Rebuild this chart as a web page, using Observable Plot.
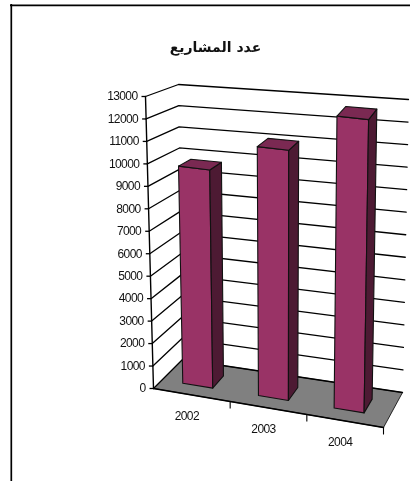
<!DOCTYPE html>
<html><head><meta charset="utf-8">
<style>html,body{margin:0;padding:0;background:#fff}svg{display:block;filter:blur(0.35px)}
svg text{letter-spacing:-0.6px}
svg g[font-weight="bold"] text{letter-spacing:0}</style>
<script src="https://cdn.jsdelivr.net/npm/d3@7"></script>
<script src="https://cdn.jsdelivr.net/npm/@observablehq/plot@0.6"></script>
</head><body><div id="chart"></div>
<script>
const chartTitle = "عدد المشاريع";
const categories = ["2002", "2003", "2004"];
const values = [9800, 11100, 12850];
const tickValues = d3.range(0, 13001, 1000);

// The 3-D box as drawn on the page: [along category axis][depth][height]
const box = {
  fb: [153, 388], fbr: [383, 427], bb: [182, 359], bbr: [402, 392],
  ft: [145, 96],  ftr: [389, 127], bt: [178, 84],  btr: [408, 99]
};
const maxValue = 13000;
const lerp = (a, b, t) => [a[0] + (b[0] - a[0]) * t, a[1] + (b[1] - a[1]) * t];
function project(u, d, v) {
  const h = v / maxValue;
  const low = lerp(lerp(box.fb, box.fbr, u), lerp(box.bb, box.bbr, u), d);
  const high = lerp(lerp(box.ft, box.ftr, u), lerp(box.bt, box.btr, u), d);
  return lerp(low, high, h);
}
const pt = (u, d, v, extra = {}) => { const [x, y] = project(u, d, v); return {x, y, ...extra}; };
const poly = (id, corners) => corners.map(c => pt(c[0], c[1], c[2], {id}));

const band = 1 / categories.length, halfW = 0.066, d0 = 0.3, d1 = 0.7, shift = -0.01;
const floor = poly("floor", [[0,0,0],[1,0,0],[1,1,0],[0,1,0],[0,0,0]]);
const grid = tickValues.flatMap(v => poly(v, [[0,0,v],[0,1,v],[1,1,v]]));
const faces = categories.map((c, i) => {
  const m = (i + 0.5) * band + shift, l = m - halfW, r = m + halfW, v = values[i];
  return {
    front: poly(c, [[l,d0,0],[r,d0,0],[r,d0,v],[l,d0,v],[l,d0,0]]),
    side:  poly(c, [[r,d0,0],[r,d1,0],[r,d1,v],[r,d0,v],[r,d0,0]]),
    top:   poly(c, [[l,d0,v],[r,d0,v],[r,d1,v],[l,d1,v],[l,d0,v]])
  };
});
const yLabels = tickValues.map(v => pt(0, 0, v, {label: String(v)}));
const xLabels = categories.map((c, i) => pt((i + 0.5) * band, 0, 0, {label: c}));
const xTicks = [1, 2, 3].map(i => pt(i * band, 0, 0));
const labelFont = {fontFamily: "'Liberation Sans',sans-serif", fontSize: 12, fill: "#111"};

const lineOpts = {x: "x", y: "y", curve: "linear"};
const chart = Plot.plot({
  width: 410, height: 481, margin: 0,
  style: {background: "#fff"},
  x: {type: "linear", domain: [0, 410], range: [0, 410], axis: null},
  y: {type: "linear", domain: [0, 481], range: [0, 481], axis: null},
  marks: [
    // outer frame of the pasted picture
    Plot.ruleY([4.8], {x1: 10, x2: 410, stroke: "#000", strokeWidth: 1.7}),
    Plot.ruleX([10.8], {y1: 4, y2: 481, stroke: "#000", strokeWidth: 1.7}),
    Plot.line(floor, {...lineOpts, fill: "#808080", stroke: "#000", strokeWidth: 0.8}),
    Plot.line(grid, {...lineOpts, z: "id", stroke: "#000", strokeWidth: 1.3}),
    Plot.line(floor.slice(0, 2), {...lineOpts, stroke: "#000", strokeWidth: 1.5}),
    Plot.line(yLabels, {...lineOpts, stroke: "#000", strokeWidth: 1.4}),
    Plot.link(xTicks, {x1: "x", y1: "y", x2: "x", y2: d => d.y + 7, stroke: "#000", strokeWidth: 1.1}),
    Plot.link(yLabels, {x1: d => d.x - 4, x2: "x", y1: "y", y2: "y", stroke: "#000", strokeWidth: 1.3}),
    ...faces.flatMap(f => [
      Plot.line(f.front, {...lineOpts, fill: "#993366", stroke: "#111", strokeWidth: 1.1}),
      Plot.line(f.side, {...lineOpts, fill: "#4d1a33", stroke: "#111", strokeWidth: 1.1}),
      Plot.line(f.top, {...lineOpts, fill: "#7a2952", stroke: "#111", strokeWidth: 1.1})
    ]),
    Plot.text(yLabels, {x: d => d.x - 8, y: "y", text: "label", textAnchor: "end", ...labelFont}),
    Plot.text(xLabels, {x: d => d.x - 5, y: d => d.y + 21, text: "label", ...labelFont}),
    Plot.text([chartTitle], {x: () => 215, y: () => 47, text: d => d, fontSize: 14, fontWeight: "bold", fill: "#111", fontFamily: "'DejaVu Sans',sans-serif"})
  ]
});
document.getElementById("chart").append(chart);
</script></body></html>
